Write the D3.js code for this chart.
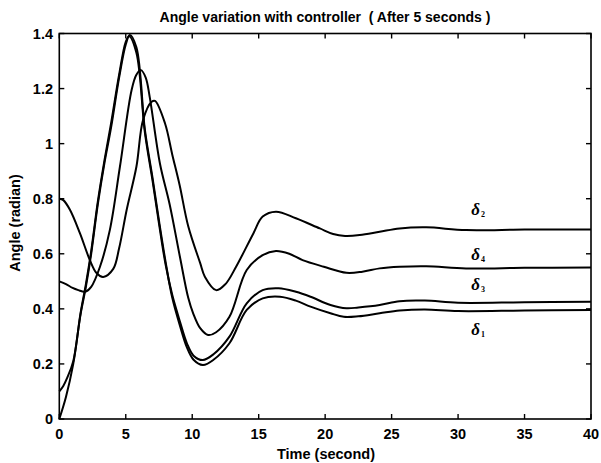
<!DOCTYPE html>
<html>
<head>
<meta charset="utf-8">
<script src="https://cdn.jsdelivr.net/npm/d3@7"></script>
<style>
  body { margin: 0; background: #fff; }
  svg { display: block; }
  text { font-family: "Liberation Sans", Arial, sans-serif; fill: #000; }
  .tick-label { font-size: 14.5px; font-weight: bold; }
  .title { font-size: 14px; font-weight: bold; }
  .axis-title { font-size: 14.5px; font-weight: bold; }
  .curve { fill: none; stroke: #000; stroke-width: 2; stroke-linejoin: round; }
  .frame { fill: none; stroke: #000; stroke-width: 1.6; }
  .tick { stroke: #000; stroke-width: 1.4; }
  .delta { font-family: "Liberation Serif", "DejaVu Serif", serif; font-style: italic; font-weight: bold; font-size: 17px; }
  .sub { font-style: normal; font-size: 8px; }
</style>
</head>
<body>
<svg></svg>
<script>
// data
const xTicks = [0, 5, 10, 15, 20, 25, 30, 35, 40];
const yTicks = [0, 0.2, 0.4, 0.6, 0.8, 1, 1.2, 1.4];

// top curve, starts at 0.8
const tA = [0, 0.3, 0.8, 1.55, 2.3, 2.8, 3.3, 4.06, 4.5, 5.07, 5.8, 6.3, 6.95, 7.2, 7.95, 8.5, 9.05, 9.7, 10.6, 10.95, 11.8, 12.5, 13.3, 14.6, 15.3, 16.3, 17.8, 19.6, 20.6, 21.5, 22.6, 24.1, 25.6, 27.6, 30.6, 35, 40];
const vA = [0.8, 0.795, 0.76, 0.675, 0.577, 0.53, 0.516, 0.545, 0.62, 0.76, 0.916, 1.086, 1.152, 1.155, 1.074, 0.96, 0.85, 0.7, 0.566, 0.517, 0.468, 0.49, 0.553, 0.674, 0.735, 0.753, 0.729, 0.692, 0.672, 0.665, 0.668, 0.68, 0.692, 0.696, 0.686, 0.688, 0.688];

// second curve, starts at 0.5
const tB = [0, 0.5, 1.0, 1.43, 1.93, 2.4, 3.06, 3.8, 4.56, 5.44, 5.8, 6.14, 6.5, 6.8, 7.57, 8.3, 9.07, 9.7, 10.07, 10.6, 11.2, 11.8, 12.8, 14.1, 15.3, 16.3, 17.3, 18.3, 19.9, 21.6, 22.8, 24.1, 25.6, 27.6, 30.6, 35, 40];
const vB = [0.5, 0.49, 0.476, 0.468, 0.462, 0.48, 0.553, 0.686, 0.916, 1.195, 1.25, 1.267, 1.24, 1.17, 0.928, 0.78, 0.59, 0.44, 0.384, 0.33, 0.305, 0.315, 0.371, 0.541, 0.595, 0.61, 0.6, 0.577, 0.553, 0.531, 0.535, 0.547, 0.553, 0.555, 0.547, 0.549, 0.55];

// third curve, starts at 0.1
const tC = [0, 0.3, 0.6, 1.05, 1.6, 2.0, 2.4, 2.9, 3.4, 3.9, 4.5, 5.0, 5.25, 5.8, 6.44, 7.0, 7.5, 8.0, 8.5, 9.07, 9.6, 10.1, 10.8, 11.6, 12.8, 14.1, 15.3, 16.5, 17.8, 18.9, 20.4, 21.6, 22.5, 24.1, 25.6, 27.5, 30, 35, 40];
const vC = [0.1, 0.12, 0.15, 0.21, 0.385, 0.49, 0.61, 0.79, 0.94, 1.075, 1.25, 1.37, 1.39, 1.33, 1.04, 0.87, 0.71, 0.56, 0.45, 0.355, 0.275, 0.23, 0.214, 0.235, 0.299, 0.42, 0.468, 0.475, 0.462, 0.444, 0.414, 0.402, 0.405, 0.414, 0.428, 0.43, 0.422, 0.424, 0.426];

// bottom curve, starts at 0
const tD = [0, 0.5, 1.05, 1.6, 2.0, 2.4, 2.9, 3.4, 3.9, 4.5, 5.0, 5.3, 5.8, 6.44, 7.0, 7.5, 8.0, 8.5, 9.07, 9.6, 10.1, 10.8, 11.6, 12.8, 14.1, 15.3, 16.6, 17.8, 18.9, 20.4, 21.4, 22.5, 24.1, 25.6, 27.5, 30, 35, 40];
const vD = [0, 0.08, 0.2, 0.38, 0.48, 0.6, 0.78, 0.93, 1.06, 1.24, 1.36, 1.395, 1.35, 1.05, 0.88, 0.72, 0.57, 0.44, 0.34, 0.26, 0.215, 0.196, 0.215, 0.275, 0.396, 0.438, 0.444, 0.43, 0.408, 0.384, 0.371, 0.373, 0.384, 0.394, 0.398, 0.392, 0.394, 0.396];

const labelBase = ["δ", "δ", "δ", "δ"];
const labelSub = ["2", "4", "3", "1"];
const labelT = [31, 31, 31, 31];
const labelV = [0.741, 0.577, 0.468, 0.305];

const svg = d3.select("svg").attr("width", 601).attr("height", 463);

const x = d3.scaleLinear().domain([0, 40]).range([59.3, 591]);
const y = d3.scaleLinear().domain([0, 1.4]).range([419, 33.5]);

// curves
const line = d3
  .line()
  .x(d => x(d[0]))
  .y(d => y(d[1]))
  .curve(d3.curveCatmullRom.alpha(0.5));

[[tA, vA], [tB, vB], [tC, vC], [tD, vD]].forEach(([ts, vs]) => {
  svg
    .append("path")
    .datum(d3.zip(ts, vs))
    .attr("class", "curve")
    .attr("d", line);
});

// ticks on all four sides, pointing inward
const tickLen = 5;
svg
  .selectAll("line.xb")
  .data(xTicks)
  .enter()
  .append("line")
  .attr("class", "tick")
  .attr("x1", d => x(d))
  .attr("x2", d => x(d))
  .attr("y1", y(0))
  .attr("y2", y(0) - tickLen);
svg
  .selectAll("line.xt")
  .data(xTicks)
  .enter()
  .append("line")
  .attr("class", "tick")
  .attr("x1", d => x(d))
  .attr("x2", d => x(d))
  .attr("y1", y(1.4))
  .attr("y2", y(1.4) + tickLen);
svg
  .selectAll("line.yl")
  .data(yTicks)
  .enter()
  .append("line")
  .attr("class", "tick")
  .attr("x1", x(0))
  .attr("x2", x(0) + tickLen)
  .attr("y1", d => y(d))
  .attr("y2", d => y(d));
svg
  .selectAll("line.yr")
  .data(yTicks)
  .enter()
  .append("line")
  .attr("class", "tick")
  .attr("x1", x(40))
  .attr("x2", x(40) - tickLen)
  .attr("y1", d => y(d))
  .attr("y2", d => y(d));

svg
  .append("rect")
  .attr("class", "frame")
  .attr("x", x(0))
  .attr("y", y(1.4))
  .attr("width", x(40) - x(0))
  .attr("height", y(0) - y(1.4));

// tick labels
svg
  .selectAll("text.xl")
  .data(xTicks)
  .enter()
  .append("text")
  .attr("class", "tick-label")
  .attr("x", d => x(d))
  .attr("y", 439)
  .attr("text-anchor", "middle")
  .text(d => d);
svg
  .selectAll("text.yl")
  .data(yTicks)
  .enter()
  .append("text")
  .attr("class", "tick-label")
  .attr("x", 53)
  .attr("y", d => y(d) + 5)
  .attr("text-anchor", "end")
  .text(d => d);

// titles
svg
  .append("text")
  .attr("class", "title")
  .attr("x", 325)
  .attr("y", 22)
  .attr("text-anchor", "middle")
  .attr("xml:space", "preserve")
  .text("Angle variation with controller  ( After 5 seconds )");
svg
  .append("text")
  .attr("class", "axis-title")
  .attr("x", 326)
  .attr("y", 459)
  .attr("text-anchor", "middle")
  .text("Time (second)");
svg
  .append("text")
  .attr("class", "axis-title")
  .attr("transform", "translate(20,223) rotate(-90)")
  .attr("text-anchor", "middle")
  .text("Angle (radian)");

// curve labels
const labels = svg
  .selectAll("text.delta")
  .data(labelBase)
  .enter()
  .append("text")
  .attr("class", "delta")
  .attr("x", (d, i) => x(labelT[i]))
  .attr("y", (d, i) => y(labelV[i]));
labels.append("tspan").text(d => d);
labels
  .append("tspan")
  .attr("class", "sub")
  .attr("dx", 1)
  .attr("dy", 2)
  .text((d, i) => labelSub[i]);
</script>
</body>
</html>
